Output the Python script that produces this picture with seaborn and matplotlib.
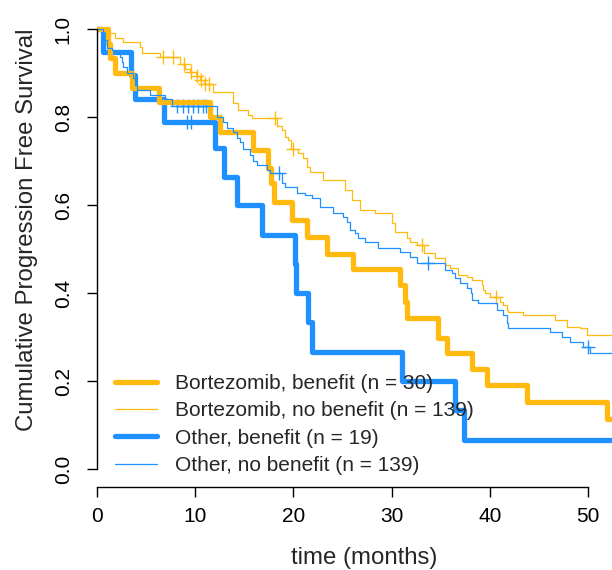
import numpy as np
import seaborn as sns
import matplotlib.pyplot as plt
from matplotlib.lines import Line2D

# Kaplan-Meier steps (time in months, survival after event)
bort_ben_t = [0, 1.1, 1.3, 1.8, 3.6, 6.3, 11.5, 12.5, 15.9, 17.4, 17.7, 18.0, 19.9, 21.4,
              23.4, 26.1, 30.9, 31.4, 31.6, 34.7, 35.6, 38.2, 39.7, 43.8, 51.9, 53]
bort_ben_s = [1.0, 0.967, 0.933, 0.9, 0.867, 0.833, 0.8, 0.767, 0.725, 0.683, 0.65, 0.607, 0.567, 0.527,
              0.488, 0.455, 0.418, 0.38, 0.343, 0.298, 0.264, 0.228, 0.19, 0.152, 0.114, 0.114]
bort_ben_cens = []

bort_nob_t = [0, 1.1, 1.8, 2.6, 4.4, 4.6, 6.4, 8.5, 9.0, 9.5, 10.1, 10.5, 10.9, 11.8, 13.8, 14.4,
              15.4, 15.8, 18.3, 18.8, 19.1, 19.5, 19.8, 20.5, 21.0, 21.4, 21.7, 23.0, 25.3, 26.0,
              26.8, 28.3, 30.0, 30.3, 31.6, 31.9, 32.6, 33.3, 34.4, 35.4, 35.9, 36.8, 37.7, 38.2,
              39.2, 39.3, 39.5, 40.0, 41.0, 41.3, 41.8, 41.9, 43.4, 46.6, 47.9, 49.2, 49.9, 53]
bort_nob_s = [1.0, 0.99, 0.98, 0.97, 0.96, 0.945, 0.936, 0.92, 0.909, 0.902, 0.893, 0.884, 0.875, 0.857,
              0.832, 0.816, 0.805, 0.798, 0.78, 0.77, 0.755, 0.748, 0.727, 0.718, 0.707, 0.686, 0.675,
              0.657, 0.634, 0.611, 0.589, 0.582, 0.559, 0.539, 0.525, 0.516, 0.509, 0.491, 0.48,
              0.464, 0.457, 0.441, 0.436, 0.43, 0.418, 0.407, 0.40, 0.391, 0.38, 0.373, 0.361,
              0.357, 0.35, 0.339, 0.323, 0.32, 0.305, 0.305]
bort_nob_cens = [6.7, 7.7, 8.9, 9.6, 10.2, 10.6, 11.0, 11.4, 18.1, 20.0, 33.1, 40.6]

oth_ben_t = [0, 0.6, 3.5, 3.9, 6.8, 12.0, 12.9, 14.3, 16.8, 20.2, 20.3, 21.5, 21.9, 31.1, 36.5, 37.4, 53]
oth_ben_s = [1.0, 0.947, 0.895, 0.842, 0.789, 0.73, 0.664, 0.60, 0.532, 0.466, 0.40, 0.333, 0.266,
             0.20, 0.133, 0.067, 0.067]
oth_ben_cens = [9.2, 9.6]

oth_nob_t = [0, 0.6, 1.0, 1.5, 1.8, 2.3, 2.5, 2.6, 3.1, 3.7, 3.9, 4.1, 5.4, 6.9, 7.6, 12.2, 12.8,
             13.2, 13.8, 14.3, 14.6, 14.9, 15.6, 15.9, 16.3, 17.3, 17.6, 18.8, 19.1, 20.4, 21.2,
             21.9, 22.7, 24.0, 25.1, 25.5, 25.8, 26.3, 26.6, 27.3, 28.6, 30.9, 31.9, 32.6, 35.4,
             36.2, 36.5, 37.0, 37.7, 38.1, 38.2, 38.8, 40.7, 41.3, 41.8, 41.9, 46.1, 47.4, 48.2,
             49.5, 50.2, 53]
oth_nob_s = [1.0, 0.975, 0.957, 0.952, 0.945, 0.936, 0.925, 0.914, 0.9, 0.889, 0.873, 0.861, 0.85,
             0.84, 0.825, 0.80, 0.789, 0.775, 0.766, 0.752, 0.743, 0.727, 0.714, 0.70, 0.691, 0.68,
             0.673, 0.65, 0.641, 0.627, 0.623, 0.616, 0.595, 0.582, 0.573, 0.561, 0.543, 0.536,
             0.525, 0.516, 0.502, 0.493, 0.482, 0.468, 0.452, 0.445, 0.434, 0.423, 0.411, 0.40,
             0.384, 0.377, 0.361, 0.35, 0.332, 0.32, 0.311, 0.30, 0.289, 0.277, 0.264, 0.264]
oth_nob_cens = [8.1, 8.8, 9.3, 9.8, 10.3, 10.8, 11.1, 18.5, 33.7, 50.0]

x_ticks = [0, 10, 20, 30, 40, 50]
y_ticks = [0.0, 0.2, 0.4, 0.6, 0.8, 1.0]

yellow = "#FFB90F"
blue = "#1E90FF"

# drawing order: thick blue under thick yellow, thin lines on top
curves = [
    ("Other, benefit (n = 19)", oth_ben_t, oth_ben_s, oth_ben_cens, blue, 3.8),
    ("Bortezomib, benefit (n = 30)", bort_ben_t, bort_ben_s, bort_ben_cens, yellow, 3.8),
    ("Bortezomib, no benefit (n = 139)", bort_nob_t, bort_nob_s, bort_nob_cens, yellow, 0.9),
    ("Other, no benefit (n = 139)", oth_nob_t, oth_nob_s, oth_nob_cens, blue, 0.9),
]

sns.set_style("ticks")
plt.rcParams["font.family"] = ["Liberation Sans", "DejaVu Sans"]

fig = plt.figure(figsize=(6.12, 5.7), dpi=100)
ax = fig.add_axes([97 / 612, 1 - 487 / 570, 515 / 612, 469 / 570])

for name, t, s, cens, col, lw in curves:
    sns.lineplot(x=t, y=s, ax=ax, color=col, linewidth=lw, drawstyle="steps-post",
                 estimator=None, sort=False, legend=False)
    if cens:
        t_arr = np.array(t)
        s_arr = np.array(s)
        cy = s_arr[np.searchsorted(t_arr, cens, side="right") - 1]
        sns.scatterplot(x=cens, y=cy, ax=ax, marker="+", s=100, color=col, linewidth=1, legend=False)

ax.set_xlim(0, 515 / 9.82)
ax.set_ylim(-18 / 440, 451 / 440)
ax.set_xticks(x_ticks)
ax.set_yticks(y_ticks)
ax.set_xticklabels([str(v) for v in x_ticks])
ax.set_yticklabels([f"{v:.1f}" for v in y_ticks], rotation=90, va="center")

for side in ["top", "right"]:
    ax.spines[side].set_visible(False)
ax.spines["left"].set_bounds(0, 1)
ax.spines["bottom"].set_bounds(0, 50)
for side in ["left", "bottom"]:
    ax.spines[side].set_linewidth(1)
    ax.spines[side].set_color("black")
ax.tick_params(direction="out", length=7.5, width=1, color="black", labelsize=15, labelcolor="black")
ax.tick_params(axis="y", pad=10)
ax.tick_params(axis="x", pad=7)

ax.set_xlabel("time (months)", fontsize=17.3)
ax.set_ylabel("Cumulative Progression Free Survival", fontsize=17.3)
ax.xaxis.set_label_coords(0.518, -0.152)
ax.xaxis.label.set_va("center")
ax.yaxis.set_label_coords(-0.135, 0.548)
ax.yaxis.label.set_va("center")

handles = [
    Line2D([], [], color=yellow, lw=3.8),
    Line2D([], [], color=yellow, lw=0.9),
    Line2D([], [], color=blue, lw=3.8),
    Line2D([], [], color=blue, lw=0.9),
]
labels = ["Bortezomib, benefit (n = 30)", "Bortezomib, no benefit (n = 139)",
          "Other, benefit (n = 19)", "Other, no benefit (n = 139)"]
ax.legend(handles, labels, loc="upper left", bbox_to_anchor=(115 / 612, 1 - 374 / 570),
          bbox_transform=fig.transFigure, frameon=False, fontsize=15, handlelength=2.0,
          handletextpad=0.87, labelspacing=0.4, borderpad=0, borderaxespad=0)

fig.savefig("out.png", dpi=100)
